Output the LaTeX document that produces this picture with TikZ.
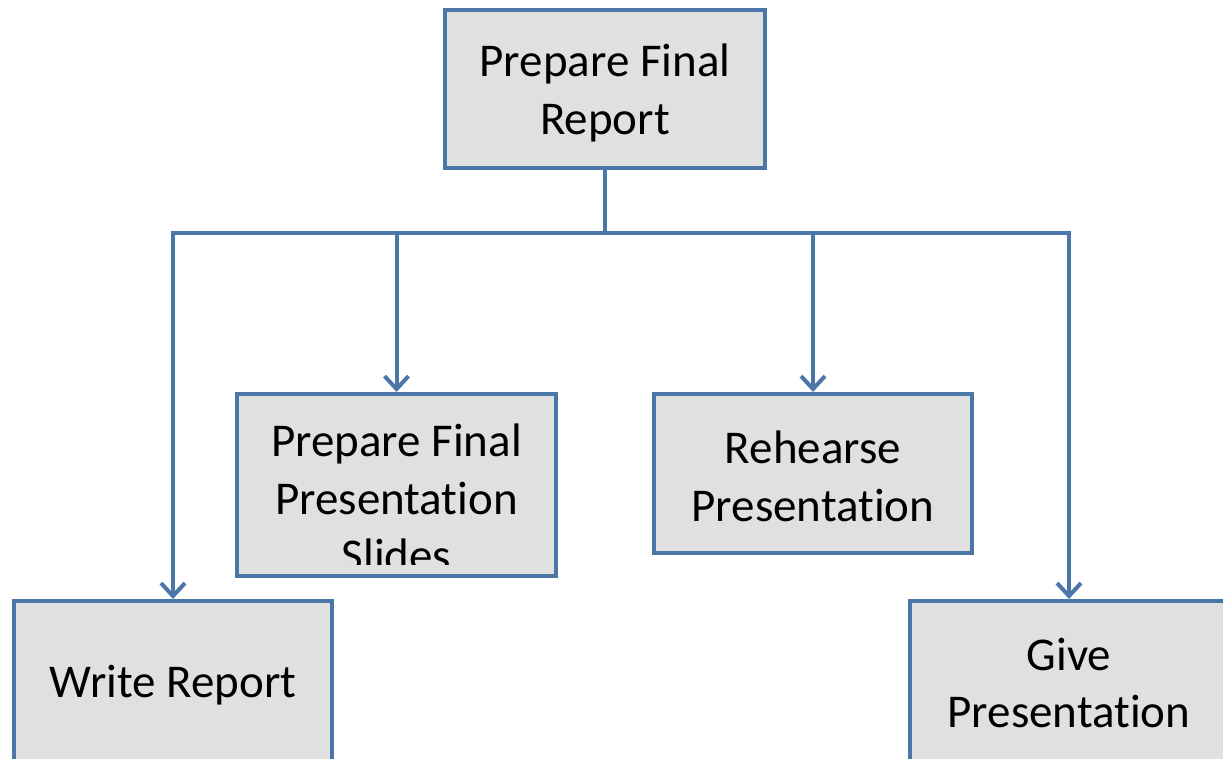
\documentclass[tikz,border=0pt]{standalone}
\usepackage{fontspec}
\setmainfont{Carlito}[Ligatures=NoCommon]
\usetikzlibrary{arrows.meta}
\definecolor{edgeblue}{HTML}{4A76A8}
\definecolor{boxgray}{HTML}{E0E0E0}
% "Presentation" with the t-i pair kept as two separate glyphs
\newcommand\presword{Presentat\kern0pt ion}
\tikzset{
  taskbox/.style={draw=edgeblue, line width=4pt, fill=boxgray, inner sep=0pt,
    minimum width=318pt},
  tasktext/.style={inner sep=0pt, align=center, text=black,
    font=\fontsize{47}{57.5}\selectfont},
  link/.style={draw=edgeblue, line width=4pt},
  arrowlink/.style={link, -{Straight Barb[length=13pt, width=24pt]}},
}
\begin{document}
\begin{tikzpicture}[x=1pt, y=-1pt]
  \useasboundingbox (0,0) rectangle (1223,759);
  \clip (0,0) rectangle (1223,759);

  % task boxes
  \node[taskbox, minimum width=320pt, minimum height=158pt] (top) at (605,89) {};
  \node[tasktext] (toptext) at ([yshift=-4pt]top.center) {Prepare Final\\Report};

  \node[taskbox, minimum width=319pt, minimum height=182pt] (slides) at (396.5,485) {};
  \begin{scope}
    \clip ([xshift=2pt]slides.north west) rectangle ([yshift=14pt]slides.south east);
    \node[tasktext] (slidestext) at (396.5,498) {Prepare Final\\\presword\\Slides};
  \end{scope}

  \node[taskbox, minimum height=159pt] (rehearse) at (813,473.5) {};
  \node[tasktext] (rehearsetext) at ([yshift=-3pt]rehearse.center) {Rehearse\\\presword};

  \node[taskbox, minimum height=160pt] (write) at (173,681) {};
  \node[tasktext] (writetext) at ([yshift=-4pt]write.center) {Write Report};

  \node[taskbox, minimum height=160pt] (give) at (1069,681) {};
  \node[tasktext] (givetext) at ([yshift=-2pt]give.center) {Give\\\presword};

  % branching connectors
  \coordinate (bar) at (605,233);
  \draw[link] (top.south) -- (bar);
  \draw[arrowlink] (bar) -| (write.north);
  \draw[arrowlink] (bar) -| (slides.north);
  \draw[arrowlink] (bar) -| (rehearse.north);
  \draw[arrowlink] (bar) -| (give.north);
\end{tikzpicture}
\end{document}
